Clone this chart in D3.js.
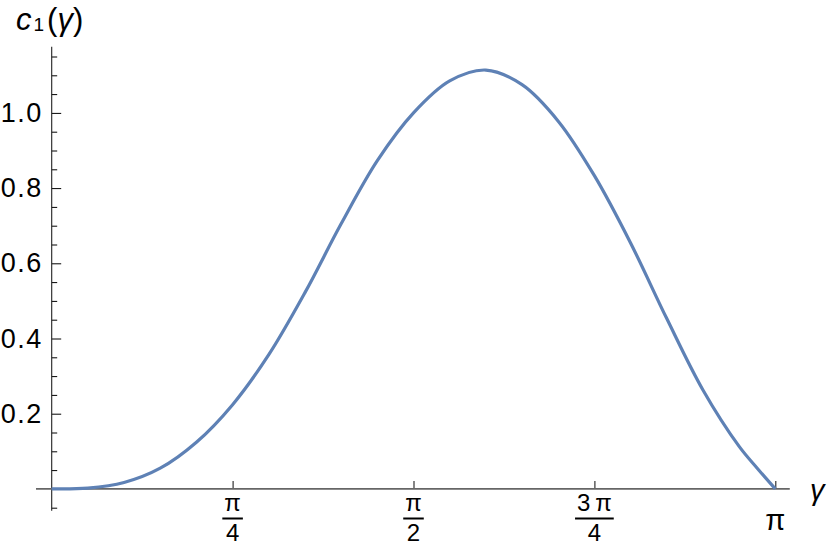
<!DOCTYPE html>
<html><head><meta charset="utf-8">
<script src="https://cdn.jsdelivr.net/npm/d3@7"></script>
<style>
body{margin:0;background:#fff;}
svg{display:block;}
text{font-family:"Liberation Sans",Arial,sans-serif;fill:#000;}
</style></head>
<body><svg id="c" width="830" height="546"></svg>
<script>
// gamma in units of pi
const gammaOverPi = [0.00,0.05,0.10,0.15,0.20,0.25,0.30,0.35,0.40,0.45,0.50,0.55,0.60,0.65,0.70,0.75,0.80,0.85,0.90,0.95,0.975,1.00];
const c1Values    = [0.000,0.002,0.017,0.055,0.124,0.224,0.357,0.522,0.705,0.873,1.000,1.085,1.114,1.075,0.978,0.833,0.654,0.453,0.263,0.113,0.055,0.000];
const yMajorTicks = [0.2,0.4,0.6,0.8,1.0];
const yTickLabels = ["0.2","0.4","0.6","0.8","1.0"];
const xTickNum    = [1,2,3,4]; // multiples of pi/4
const xTickLabels = [{n:"\u03C0",d:"4"},{n:"\u03C0",d:"2"},{n:"3\u2009\u03C0",d:"4"},{n:"\u03C0",d:null}];

const svg = d3.select("#c");
const x = d3.scaleLinear().domain([0, Math.PI]).range([51.7, 775.3]);
const y = d3.scaleLinear().domain([0, 1]).range([488.9, 112.9]);

const data = gammaOverPi.map((g,i)=>({g:g*Math.PI, v:c1Values[i]}));

// y axis minor ticks
const yMinor = d3.range(-1, 24).map(i=>i*0.05).filter(v=>!yMajorTicks.some(m=>Math.abs(m-v)<1e-6) && Math.abs(v)>1e-6);
const gy = svg.append("g").attr("transform",`translate(${x(0)},0)`);
gy.call(d3.axisRight(y).tickValues(yMinor).tickSize(5.5).tickFormat(""))
  .call(g=>g.select(".domain").remove())
  .call(g=>g.selectAll("line").attr("stroke","#000").attr("stroke-width",1));
const gyM = svg.append("g").attr("transform",`translate(${x(0)},0)`);
gyM.call(d3.axisLeft(y).tickValues(yMajorTicks).tickSize(-9.5).tickPadding(9)
      .tickFormat((d,i)=>yTickLabels[i]))
  .call(g=>g.select(".domain").remove())
  .call(g=>g.selectAll("line").attr("stroke","#000").attr("stroke-width",1))
  .call(g=>g.selectAll("text").attr("font-size",27).attr("font-family","Liberation Sans, Arial, sans-serif").attr("fill","#000").attr("letter-spacing","1.5px"));
// y axis line
svg.append("line").attr("x1",x(0)).attr("x2",x(0)).attr("y1",y(-0.058)).attr("y2",y(1.176))
  .attr("stroke","#222").attr("stroke-width",1.1);

// x axis
const gx = svg.append("g").attr("transform",`translate(0,${y(0)})`);
gx.call(d3.axisBottom(x).tickValues(xTickNum.map(k=>k*Math.PI/4)).tickSize(-8).tickFormat(""))
  .call(g=>g.select(".domain").remove())
  .call(g=>g.selectAll("line").attr("stroke","#222").attr("stroke-width",1.1));
svg.append("line").attr("x1",x(-0.0217*Math.PI)).attr("x2",x(1.02*Math.PI)).attr("y1",y(0)).attr("y2",y(0))
  .attr("stroke","#666").attr("stroke-width",1.8);

// x tick labels (fractions)
xTickNum.forEach((k,i)=>{
  const cx = x(k*Math.PI/4);
  const lab = xTickLabels[i];
  const g = svg.append("g");
  if(lab.d){
    const num = g.append("text").attr("x",cx).attr("y",511).attr("text-anchor","middle").attr("font-size",24).text(lab.n);
    const w = num.node().getComputedTextLength();
    g.append("line").attr("x1",cx-w/2-2).attr("x2",cx+w/2+2).attr("y1",518.5).attr("y2",518.5).attr("stroke","#000").attr("stroke-width",2);
    g.append("text").attr("x",cx).attr("y",541).attr("text-anchor","middle").attr("font-size",24).text(lab.d);
  } else {
    g.append("text").attr("x",cx).attr("y",530).attr("text-anchor","middle").attr("font-size",29).text(lab.n);
  }
});

// curve
svg.append("path").datum(data)
  .attr("fill","none").attr("stroke","#5E81B5").attr("stroke-width",3.2).attr("stroke-linejoin","round")
  .attr("d", d3.line().x(d=>x(d.g)).y(d=>y(d.v)).curve(d3.curveCatmullRom.alpha(0.5)));

// axis labels
const yl = svg.append("text").attr("x",16).attr("y",30).attr("font-size",31);
yl.append("tspan").attr("font-style","italic").text("c");
yl.append("tspan").attr("font-size",19).attr("dy",1).attr("dx",2).text("1");
yl.append("tspan").attr("dy",-1).attr("dx",3).text("(");
yl.append("tspan").attr("font-style","italic").text("\u03B3");
yl.append("tspan").text(")");

svg.append("text").attr("x",810).attr("y",500).attr("font-size",29).attr("font-style","italic").text("\u03B3");
</script></body></html>
